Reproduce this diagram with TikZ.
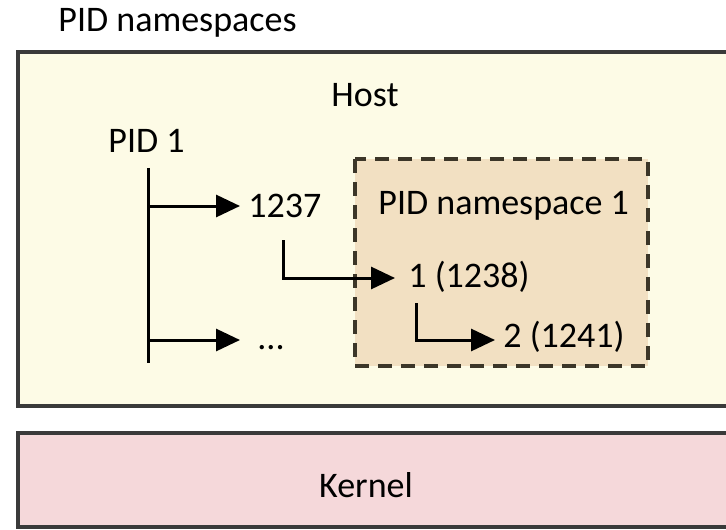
\documentclass[tikz,border=0pt]{standalone}
\usepackage{fontspec}
\setmainfont{Carlito}
\usepackage{tikz}
\usetikzlibrary{calc,arrows.meta}
\definecolor{hostfill}{RGB}{253,251,230}
\definecolor{nsfill}{RGB}{242,224,194}
\definecolor{kernelfill}{RGB}{245,216,218}
\definecolor{boxline}{RGB}{58,58,58}
\definecolor{dashline}{RGB}{60,54,40}

\begin{document}
\begin{tikzpicture}[x=0.5pt,y=-0.5pt,
    lbl/.style={anchor=base west,inner sep=0pt,font=\fontsize{18}{21}\selectfont},
    outerbox/.style={draw=boxline,line width=1.6pt},
    nsbox/.style={draw=dashline,fill=nsfill,line width=1.6pt,dash pattern=on 7pt off 4.5pt},
    child/.style={line width=1.5pt,-{Triangle[length=12pt,width=11pt]}}]
    \clip (0,0) rectangle (726,529);
    \fill[white] (0,0) rectangle (726,529);

    \draw[outerbox,fill=hostfill] (18,52) rectangle (740,406);
    \draw[outerbox,fill=kernelfill] (18,433) rectangle (740,527);
    \draw[nsbox] (355,159) rectangle (648,366);

    \node[lbl] (title) at (58,32) {PID namespaces};
    \node[lbl,anchor=base] (host) at (365,107) {Host};
    \node[lbl] (pid1) at (108,153) {PID 1};
    \node[lbl] (p1237) at (248,217) {1237};
    \node[lbl] (nslabel) at (378,214) {PID namespace 1};
    \node[lbl] (p1238) at (408,287) {1 (1238)};
    \node[lbl] (p1241) at (503,347) {2 (1241)};
    \node[lbl] (more) at (257,349) {...};
    \node[lbl,anchor=base] (kernel) at (366,497) {Kernel};

    \coordinate (trunktop) at (148,168);
    \coordinate (trunkbot) at (148,363);
    \draw[line width=1.5pt] (trunktop) -- (trunkbot);
    \draw[child] (148,206) -- ($(p1237.west |- 0,206)+(-8,0)$);
    \draw[child] (148,340) -- ($(more.west |- 0,340)+(-17,0)$);
    \draw[child] (283,240) |- ($(p1238.west |- 0,278)+(-13,0)$);
    \draw[child] (416,303) |- ($(p1241.west |- 0,340)+(-8,0)$);
\end{tikzpicture}
\end{document}
